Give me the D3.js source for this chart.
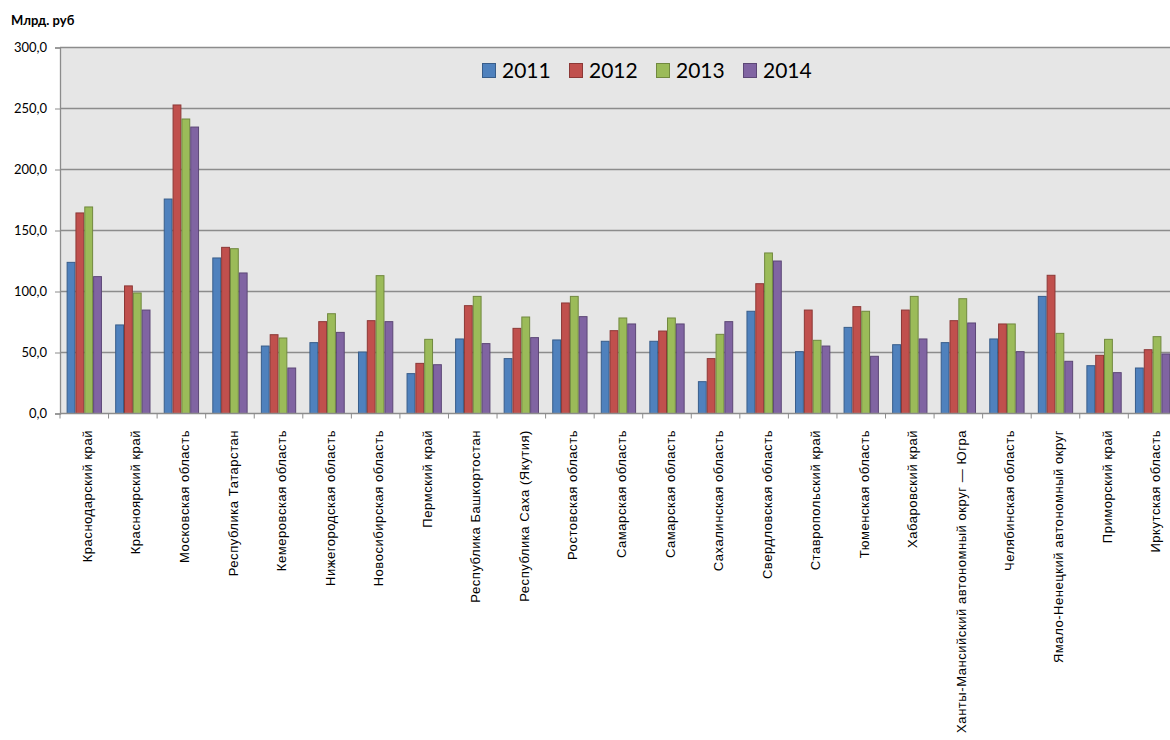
<!DOCTYPE html>
<html>
<head>
<meta charset="utf-8">
<script src="https://cdn.jsdelivr.net/npm/d3@7.9.0/dist/d3.min.js"></script>
<style>
  body { margin: 0; background: #fff; }
  svg { display: block; }
  .ylab { font-family: Lato, "Open Sans", sans-serif; font-size: 13px; fill: #000; }
  .xlab { font-family: "Liberation Sans", Arial, sans-serif; font-size: 13px; letter-spacing: 0.55px; fill: #000; }
  .legend text { font-family: Lato, "Open Sans", sans-serif; font-size: 21px; fill: #000; }
  .unit { font-family: Lato, "Open Sans", sans-serif; font-size: 13px; font-weight: bold; }
</style>
</head>
<body>
<svg id="chart" width="1170" height="740"></svg>
<script>
// ---- data (млрд. руб) ----
const regions = [
  'Краснодарский край', 'Красноярский край', 'Московская область', 'Республика Татарстан',
  'Кемеровская область', 'Нижегородская область', 'Новосибирская область', 'Пермский край',
  'Республика Башкортостан', 'Республика Саха (Якутия)', 'Ростовская область', 'Самарская область',
  'Самарская область', 'Сахалинская область', 'Свердловская область', 'Ставропольский край',
  'Тюменская область', 'Хабаровский край', 'Ханты-Мансийский автономный округ — Югра',
  'Челябинская область', 'Ямало-Ненецкий автономный округ', 'Приморский край', 'Иркутская область'
];
const years = ['2011', '2012', '2013', '2014'];

const v2011 = [124.3, 73.0, 176.2, 127.9, 55.7, 58.5, 50.8, 33.1, 61.5, 45.4, 60.7, 59.6,
               59.6, 26.5, 84.2, 51.1, 71.0, 56.8, 58.5, 61.5, 96.4, 39.6, 37.7];
const v2012 = [164.8, 105.0, 253.3, 136.6, 65.0, 75.7, 76.5, 41.5, 88.8, 70.2, 91.0, 68.3,
               68.0, 45.4, 106.8, 85.2, 88.0, 85.2, 76.5, 73.8, 113.7, 48.1, 52.7];
const v2013 = [169.7, 99.2, 241.8, 135.5, 62.3, 82.2, 113.4, 61.2, 96.4, 79.5, 96.4, 78.7,
               78.7, 65.3, 132.0, 60.4, 84.2, 96.4, 94.5, 73.8, 66.1, 61.2, 63.4];
const v2014 = [112.6, 85.2, 235.2, 115.6, 37.7, 66.9, 75.7, 40.4, 57.7, 62.6, 79.8, 73.8,
               73.8, 75.7, 125.4, 55.7, 47.3, 61.5, 74.6, 51.1, 43.2, 33.9, 49.2];
const yTicks = [0, 50, 100, 150, 200, 250, 300];

const series = [v2011, v2012, v2013, v2014];
const fills = ['#4F81BD', '#C0504D', '#9BBB59', '#8064A2'];
const strokes = ['#385D8A', '#8C3836', '#71893F', '#5C4776'];

// ---- layout ----
const svg = d3.select('#chart');
const plotLeft = 60, plotTop = 47.5, plotBottom = 413.5;
const band = 48.56;
const plotRight = plotLeft + band * regions.length;

const x = d3.scaleBand().domain(d3.range(regions.length)).range([plotLeft, plotRight]).padding(0);
const xSub = d3.scaleBand().domain(years).range([0, x.bandwidth()]).paddingInner(0).paddingOuter(0.75);
const y = d3.scaleLinear().domain([0, 300]).range([plotBottom, plotTop]);

// plot background
svg.append('rect')
  .attr('x', plotLeft).attr('y', plotTop)
  .attr('width', plotRight - plotLeft).attr('height', plotBottom - plotTop)
  .attr('fill', '#e6e6e6');

// gridlines
svg.append('g')
  .selectAll('line')
  .data(yTicks.filter(d => d > 0))
  .join('line')
  .attr('x1', plotLeft).attr('x2', plotRight)
  .attr('y1', d => y(d)).attr('y2', d => y(d))
  .attr('stroke', '#8c8c8c').attr('stroke-width', 1.3);

// bars
const groups = svg.append('g')
  .selectAll('g')
  .data(regions.map((r, i) => i))
  .join('g')
  .attr('transform', i => `translate(${x(i)},0)`);

groups.selectAll('rect')
  .data(i => years.map((yr, k) => ({ yr, k, v: series[k][i] })))
  .join('rect')
  .attr('x', d => xSub(d.yr) + 0.5)
  .attr('width', xSub.bandwidth() - 1)
  .attr('y', d => y(d.v) + 0.5)
  .attr('height', d => y(0) - y(d.v) - 0.5)
  .attr('fill', d => fills[d.k])
  .attr('stroke', d => strokes[d.k])
  .attr('stroke-width', 1);

// y axis
const yAxis = d3.axisLeft(y).tickValues(yTicks).tickSize(5).tickPadding(8)
  .tickFormat(d => d3.format('.1f')(d).replace('.', ','));
const gy = svg.append('g').attr('transform', `translate(${plotLeft},0)`).call(yAxis);
gy.attr('font-family', null).attr('font-size', null);
gy.select('.domain').attr('stroke', '#8c8c8c').attr('stroke-width', 1.3);
gy.selectAll('.tick line').attr('stroke', '#8c8c8c');
gy.selectAll('.tick text').attr('class', 'ylab');

// x axis line + boundary ticks
svg.append('line')
  .attr('x1', plotLeft).attr('x2', plotRight)
  .attr('y1', plotBottom).attr('y2', plotBottom)
  .attr('stroke', '#8c8c8c').attr('stroke-width', 1.3);
svg.append('g')
  .selectAll('line')
  .data(d3.range(regions.length + 1))
  .join('line')
  .attr('x1', i => plotLeft + i * x.step()).attr('x2', i => plotLeft + i * x.step())
  .attr('y1', plotBottom).attr('y2', plotBottom + 5)
  .attr('stroke', '#8c8c8c');

// category labels, rotated
svg.append('g')
  .selectAll('text')
  .data(regions)
  .join('text')
  .attr('class', 'xlab')
  .attr('transform', (d, i) => `translate(${x(i) + x.bandwidth() / 2 + 3},430) rotate(-90)`)
  .attr('text-anchor', 'end')
  .attr('dy', '0.35em')
  .text(d => d);

// legend
const legend = svg.append('g').attr('class', 'legend');
const items = legend.selectAll('g')
  .data(years)
  .join('g')
  .attr('transform', (d, i) => `translate(${482 + i * 87},0)`);
items.append('rect')
  .attr('x', 0.5).attr('y', 63.5).attr('width', 13).attr('height', 14)
  .attr('fill', (d, i) => fills[i]).attr('stroke', (d, i) => strokes[i]);
items.append('text')
  .attr('x', 20).attr('y', 78)
  .text(d => d);

// unit title
svg.append('text')
  .attr('class', 'unit')
  .attr('x', 11).attr('y', 25)
  .text('Млрд. руб');
</script>
</body>
</html>
